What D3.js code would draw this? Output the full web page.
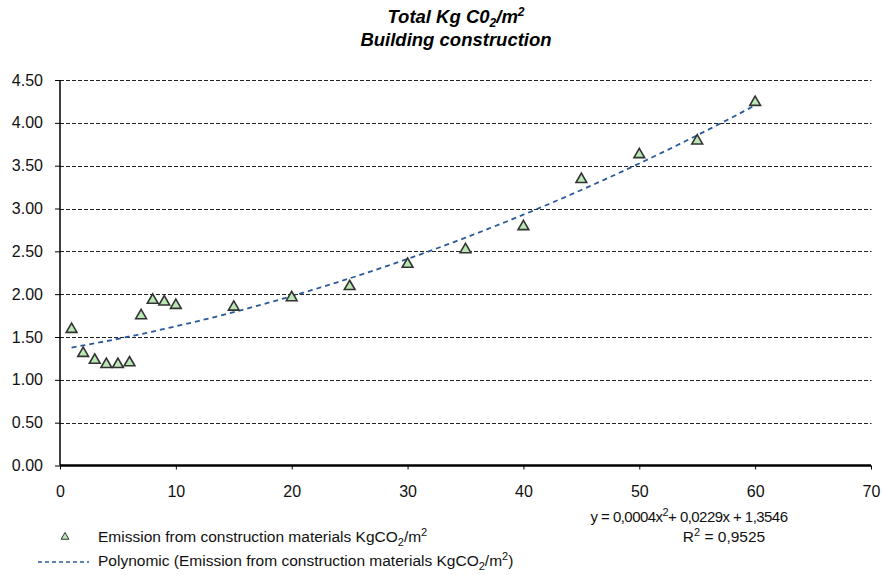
<!DOCTYPE html>
<html>
<head>
<meta charset="utf-8">
<script src="https://cdn.jsdelivr.net/npm/d3@7"></script>
<style>
html,body{margin:0;padding:0;background:#fff;}
svg{display:block;font-family:"Liberation Sans",Arial,sans-serif;}
</style>
</head>
<body>
<svg id="chart" width="882" height="575"></svg>
<script>
// ---- data ----
const xValues = [1, 2, 3, 4, 5, 6, 7, 8, 9, 10, 15, 20, 25, 30, 35, 40, 45, 50, 55, 60];
const emissionValues = [1.59, 1.31, 1.23, 1.18, 1.18, 1.20, 1.75, 1.93, 1.91, 1.87, 1.85, 1.96, 2.09, 2.35, 2.52, 2.79, 3.34, 3.63, 3.79, 4.24];
const yTicks = [0, 0.5, 1, 1.5, 2, 2.5, 3, 3.5, 4, 4.5];
const xTicks = [0, 10, 20, 30, 40, 50, 60, 70];
const seriesName = "Emission from construction materials KgCO";
const trendPrefix = "Polynomic (Emission from construction materials KgCO";
const equationText = "y = 0,0004x";
const equationRest = "+ 0,0229x + 1,3546";
const r2Text = "0,9525";

// ---- polynomial (order 2) least-squares fit from the data ----
function polyFit(xs, ys) {
  let S = [0,0,0,0,0], T = [0,0,0];
  xs.forEach((x, i) => {
    for (let k = 0; k < 5; k++) S[k] += Math.pow(x, k);
    for (let k = 0; k < 3; k++) T[k] += ys[i] * Math.pow(x, k);
  });
  const M = [[S[0],S[1],S[2],T[0]],[S[1],S[2],S[3],T[1]],[S[2],S[3],S[4],T[2]]];
  for (let i = 0; i < 3; i++) {
    for (let j = i + 1; j < 3; j++) {
      const f = M[j][i] / M[i][i];
      for (let k = i; k < 4; k++) M[j][k] -= f * M[i][k];
    }
  }
  const c = [0,0,0];
  for (let i = 2; i >= 0; i--) {
    let s = M[i][3];
    for (let k = i + 1; k < 3; k++) s -= M[i][k] * c[k];
    c[i] = s / M[i][i];
  }
  return c; // c0 + c1 x + c2 x^2
}
const coef = polyFit(xValues, emissionValues);
const trendX = d3.range(xValues[0], xValues[xValues.length - 1] + 0.001, 0.5);

// ---- layout ----
const svg = d3.select("#chart");
const x = d3.scaleLinear().domain([0, 70]).range([60, 871]);
const y = d3.scaleLinear().domain([0, 4.5]).range([465.5, 80]);
const FONT = "Liberation Sans, Arial, sans-serif";

// title
const title = svg.append("text").attr("x", 456).attr("y", 23).attr("text-anchor", "middle")
  .attr("font-size", 18.5).attr("font-weight", "bold").attr("font-style", "italic");
title.append("tspan").text("Total Kg C0");
title.append("tspan").attr("font-size", 12).attr("dy", 3.5).text("2");
title.append("tspan").attr("dy", -3.5).text("/m");
title.append("tspan").attr("font-size", 12).attr("dy", -7).text("2");
svg.append("text").attr("x", 456).attr("y", 46).attr("text-anchor", "middle")
  .attr("font-size", 18.5).attr("font-weight", "bold").attr("font-style", "italic")
  .text("Building construction");

// gridlines
svg.append("g").selectAll("line").data(yTicks.filter(d => d > 0)).join("line")
  .attr("x1", x(0)).attr("x2", 871.5)
  .attr("y1", d => Math.round(y(d)) + 0.5).attr("y2", d => Math.round(y(d)) + 0.5)
  .attr("stroke", "#222").attr("stroke-width", 1.2).attr("stroke-dasharray", "4,2");

// y axis
const yAxis = d3.axisLeft(y).tickValues(yTicks).tickFormat(d3.format(".2f")).tickSize(5).tickPadding(12);
const gy = svg.append("g").attr("transform", `translate(${x(0)},0)`).call(yAxis);
gy.attr("font-size", null).attr("font-family", null);
gy.select(".domain").remove();
gy.selectAll(".tick line").attr("stroke", "#000");
gy.selectAll("text").attr("font-size", 16).attr("fill", "#111").attr("font-family", FONT);
svg.append("line").attr("x1", x(0)).attr("x2", x(0)).attr("y1", y(4.5)).attr("y2", y(0))
  .attr("stroke", "#000").attr("stroke-width", 1.5);

// x axis
const xAxis = d3.axisBottom(x).tickValues(xTicks).tickSize(4).tickPadding(16.5);
const gx = svg.append("g").attr("transform", `translate(0,${y(0)})`).call(xAxis);
gx.attr("font-size", null).attr("font-family", null);
gx.select(".domain").remove();
gx.selectAll(".tick line").attr("stroke", "#000");
gx.selectAll("text").attr("font-size", 16).attr("fill", "#111").attr("font-family", FONT);
svg.append("line").attr("x1", x(0)).attr("x2", x(70)).attr("y1", y(0)).attr("y2", y(0))
  .attr("stroke", "#000").attr("stroke-width", 2.5);

// trendline
const line = d3.line().x(d => x(d)).y(d => y(coef[0] + coef[1] * d + coef[2] * d * d));
svg.append("path").datum(trendX).attr("d", line).attr("fill", "none")
  .attr("stroke", "#2a5a98").attr("stroke-width", 1.8).attr("stroke-dasharray", "5,4");

// points
const tri = d3.symbol(d3.symbolTriangle, 50);
svg.append("g").selectAll("path").data(xValues.map((d, i) => [d, emissionValues[i]])).join("path")
  .attr("d", tri).attr("transform", d => `translate(${x(d[0])},${y(d[1])})`)
  .attr("fill", "#b9e8b4").attr("stroke", "#333").attr("stroke-width", 1.6);

// equation
const eq = svg.append("text").attr("x", 689).attr("y", 522).attr("text-anchor", "middle")
  .attr("font-size", 15).attr("letter-spacing", -0.55).attr("fill", "#111");
eq.append("tspan").text(equationText);
eq.append("tspan").attr("font-size", 11).attr("dy", -6).text("2");
eq.append("tspan").attr("dy", 6).text(equationRest);
const r2 = svg.append("text").attr("x", 724).attr("y", 542).attr("text-anchor", "middle").attr("font-size", 15.5).attr("fill", "#111");
r2.append("tspan").text("R");
r2.append("tspan").attr("font-size", 11).attr("dy", -6).text("2");
r2.append("tspan").attr("dy", 6).text(" = " + r2Text);

// legend
svg.append("path").attr("d", d3.symbol(d3.symbolTriangle, 26)).attr("transform", "translate(65,537)")
  .attr("fill", "#b9e8b4").attr("stroke", "#333").attr("stroke-width", 1);
const l1 = svg.append("text").attr("x", 98).attr("y", 542).attr("font-size", 15.5).attr("fill", "#111");
l1.append("tspan").text(seriesName);
l1.append("tspan").attr("font-size", 11).attr("dy", 4).text("2");
l1.append("tspan").attr("dy", -4).text("/m");
l1.append("tspan").attr("font-size", 11).attr("dy", -6).text("2");
svg.append("line").attr("x1", 38).attr("x2", 89).attr("y1", 562).attr("y2", 562)
  .attr("stroke", "#2a5a98").attr("stroke-width", 1.3).attr("stroke-dasharray", "4,3");
const l2 = svg.append("text").attr("x", 98).attr("y", 566).attr("font-size", 15.5).attr("fill", "#111");
l2.append("tspan").text(trendPrefix);
l2.append("tspan").attr("font-size", 11).attr("dy", 4).text("2");
l2.append("tspan").attr("dy", -4).text("/m");
l2.append("tspan").attr("font-size", 11).attr("dy", -6).text("2");
l2.append("tspan").attr("dy", 6).text(")");
</script>
</body>
</html>
